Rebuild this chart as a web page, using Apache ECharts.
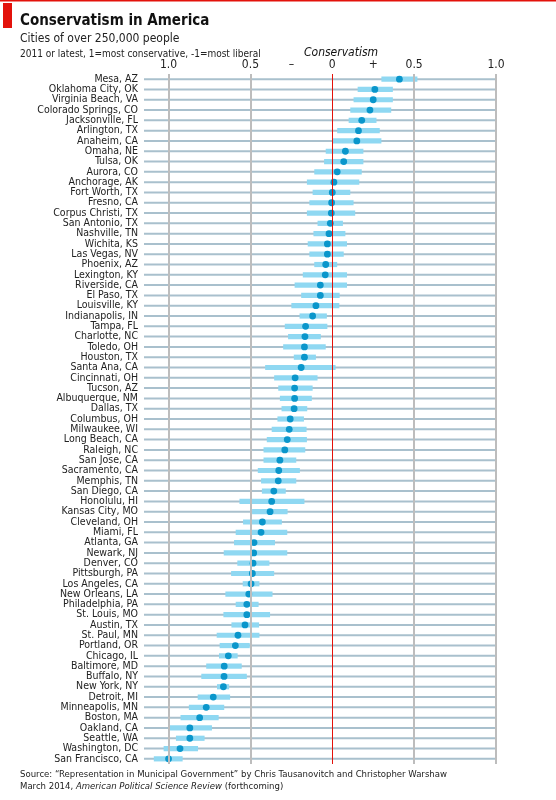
<!DOCTYPE html>
<html><head><meta charset="utf-8">
<script src="https://cdn.jsdelivr.net/npm/echarts@6/dist/echarts.min.js"></script>
<style>html,body{margin:0;padding:0;background:#fff}#c{width:556px;height:800px}</style>
</head><body><div id="c"></div>
<script>
const cities = ["Mesa, AZ","Oklahoma City, OK","Virginia Beach, VA","Colorado Springs, CO","Jacksonville, FL","Arlington, TX","Anaheim, CA","Omaha, NE","Tulsa, OK","Aurora, CO","Anchorage, AK","Fort Worth, TX","Fresno, CA","Corpus Christi, TX","San Antonio, TX","Nashville, TN","Wichita, KS","Las Vegas, NV","Phoenix, AZ","Lexington, KY","Riverside, CA","El Paso, TX","Louisville, KY","Indianapolis, IN","Tampa, FL","Charlotte, NC","Toledo, OH","Houston, TX","Santa Ana, CA","Cincinnati, OH","Tucson, AZ","Albuquerque, NM","Dallas, TX","Columbus, OH","Milwaukee, WI","Long Beach, CA","Raleigh, NC","San Jose, CA","Sacramento, CA","Memphis, TN","San Diego, CA","Honolulu, HI","Kansas City, MO","Cleveland, OH","Miami, FL","Atlanta, GA","Newark, NJ","Denver, CO","Pittsburgh, PA","Los Angeles, CA","New Orleans, LA","Philadelphia, PA","St. Louis, MO","Austin, TX","St. Paul, MN","Portland, OR","Chicago, IL","Baltimore, MD","Buffalo, NY","New York, NY","Detroit, MI","Minneapolis, MN","Boston, MA","Oakland, CA","Seattle, WA","Washington, DC","San Francisco, CA"];
const estimate = [0.41,0.26,0.25,0.23,0.18,0.16,0.15,0.08,0.07,0.03,0.01,0,-0.004,-0.006,-0.012,-0.02,-0.03,-0.03,-0.04,-0.043,-0.073,-0.073,-0.10,-0.12,-0.163,-0.167,-0.17,-0.17,-0.19,-0.227,-0.23,-0.23,-0.233,-0.257,-0.263,-0.275,-0.29,-0.32,-0.327,-0.33,-0.357,-0.37,-0.38,-0.427,-0.435,-0.478,-0.48,-0.484,-0.488,-0.496,-0.51,-0.522,-0.522,-0.533,-0.576,-0.592,-0.635,-0.66,-0.661,-0.665,-0.727,-0.77,-0.81,-0.87,-0.87,-0.93,-1.0];
const low = [0.30,0.155,0.13,0.11,0.10,0.03,0,-0.04,-0.05,-0.11,-0.155,-0.12,-0.14,-0.155,-0.09,-0.115,-0.15,-0.14,-0.11,-0.18,-0.23,-0.19,-0.25,-0.20,-0.29,-0.27,-0.30,-0.235,-0.41,-0.355,-0.33,-0.32,-0.31,-0.335,-0.37,-0.40,-0.42,-0.42,-0.455,-0.435,-0.43,-0.567,-0.49,-0.545,-0.59,-0.60,-0.663,-0.58,-0.618,-0.547,-0.653,-0.59,-0.665,-0.616,-0.706,-0.688,-0.692,-0.77,-0.80,-0.704,-0.822,-0.876,-0.927,-1.0,-0.955,-1.03,-1.09];
const high = [0.52,0.37,0.37,0.36,0.27,0.29,0.30,0.19,0.19,0.18,0.165,0.11,0.13,0.14,0.065,0.08,0.09,0.07,0.03,0.09,0.09,0.045,0.043,-0.033,-0.03,-0.07,-0.04,-0.10,0.02,-0.09,-0.12,-0.125,-0.153,-0.173,-0.157,-0.155,-0.165,-0.22,-0.198,-0.22,-0.284,-0.17,-0.273,-0.308,-0.275,-0.35,-0.275,-0.384,-0.355,-0.445,-0.365,-0.45,-0.38,-0.447,-0.445,-0.504,-0.578,-0.553,-0.522,-0.63,-0.624,-0.66,-0.694,-0.735,-0.78,-0.82,-0.914];
const tickValues = [-1,-0.5,-0.25,0,0.25,0.5,1];
const tickLabels = {"-1":"1.0","-0.5":"0.5","-0.25":"–","0":"0","0.25":"+","0.5":"0.5","1":"1.0"};
const XMIN = -1.15, XMAX = 1;
const font = "'Liberation Sans Narrow','DejaVu Sans Condensed',sans-serif";

const data = cities.map((c,i)=>[i, estimate[i], low[i], high[i]]);
const chart = echarts.init(document.getElementById('c'));
const vline = (x,c,w)=>({xAxis:x,lineStyle:{color:c,width:w,type:'solid'}});
chart.setOption({
  animation:false,
  graphic:[
    {type:'rect',shape:{x:0,y:0,width:556,height:1.5},style:{fill:'#e3120b'}},
    {type:'rect',shape:{x:3,y:3,width:9,height:25},style:{fill:'#e3120b'}},
    {type:'text',left:20,top:14,style:{text:'Conservatism in America',font:"bold 15px "+font,fill:'#111'}},
    {type:'text',left:20,top:33,style:{text:'Cities of over 250,000 people',font:"12px "+font,fill:'#222'}},
    {type:'text',left:20,top:49,style:{text:'2011 or latest, 1=most conservative, -1=most liberal',font:"10px "+font,fill:'#222'}},
    {type:'text',left:304,top:47,style:{text:'Conservatism',font:"italic 12px "+font,fill:'#111'}},
    {type:'text',left:20,top:770,style:{text:'Source: “Representation in Municipal Government” by Chris Tausanovitch and Christopher Warshaw',font:"9.5px "+font,fill:'#222'}},
    {type:'text',left:20,top:782,style:{rich:{a:{font:"9.5px "+font,fill:'#222'},b:{font:"italic 9.5px "+font,fill:'#222'}},text:'{a|March 2014, }{b|American Political Science Review}{a| (forthcoming)}'}}
  ],
  grid:{left:144,right:60,top:74,bottom:36},
  xAxis:{type:'value',min:XMIN,max:XMAX,position:'top',
    axisLine:{show:false},axisTick:{show:false},splitLine:{show:false},
    axisLabel:{customValues:tickValues,formatter:v=>tickLabels[String(v)],color:'#222',fontFamily:font,fontSize:12,margin:3}},
  yAxis:{type:'category',data:cities,inverse:true,
    axisLine:{show:false},axisTick:{show:false},
    axisLabel:{interval:0,color:'#222',fontFamily:font,fontSize:10.5,margin:6}},
  series:[{
    type:'custom',data:data,clip:false,z:1,
    encode:{x:[1,2,3],y:0},
    renderItem:(params,api)=>{
      const i=api.value(0);
      const a=api.coord([XMIN,i]), b=api.coord([XMAX,i]);
      return {type:'line',shape:{x1:a[0],y1:a[1],x2:b[0],y2:b[1]},style:{stroke:'#a9c0cd',lineWidth:2}};
    }
  },{
    type:'line',data:[],z:2,
    markLine:{silent:true,symbol:'none',label:{show:false},
      data:[vline(-1,'#bdbdbd',2),vline(-0.5,'#bdbdbd',2),vline(0.5,'#bdbdbd',2),vline(1,'#bdbdbd',2),vline(0,'#e3120b',1)]}
  },{
    type:'custom',data:data,clip:false,z:3,
    encode:{x:[1,2,3],y:0},
    renderItem:(params,api)=>{
      const i=api.value(0);
      const l=api.coord([api.value(2),i]), h=api.coord([api.value(3),i]);
      const p=api.coord([api.value(1),i]);
      return {type:'group',children:[
        {type:'rect',shape:{x:l[0],y:l[1]-2.6,width:h[0]-l[0],height:5.2},style:{fill:'#8fd8f2'}},
        {type:'circle',shape:{cx:p[0],cy:p[1],r:3.4},style:{fill:'#0a96cb'}}
      ]};
    }
  }]
});
</script></body></html>
